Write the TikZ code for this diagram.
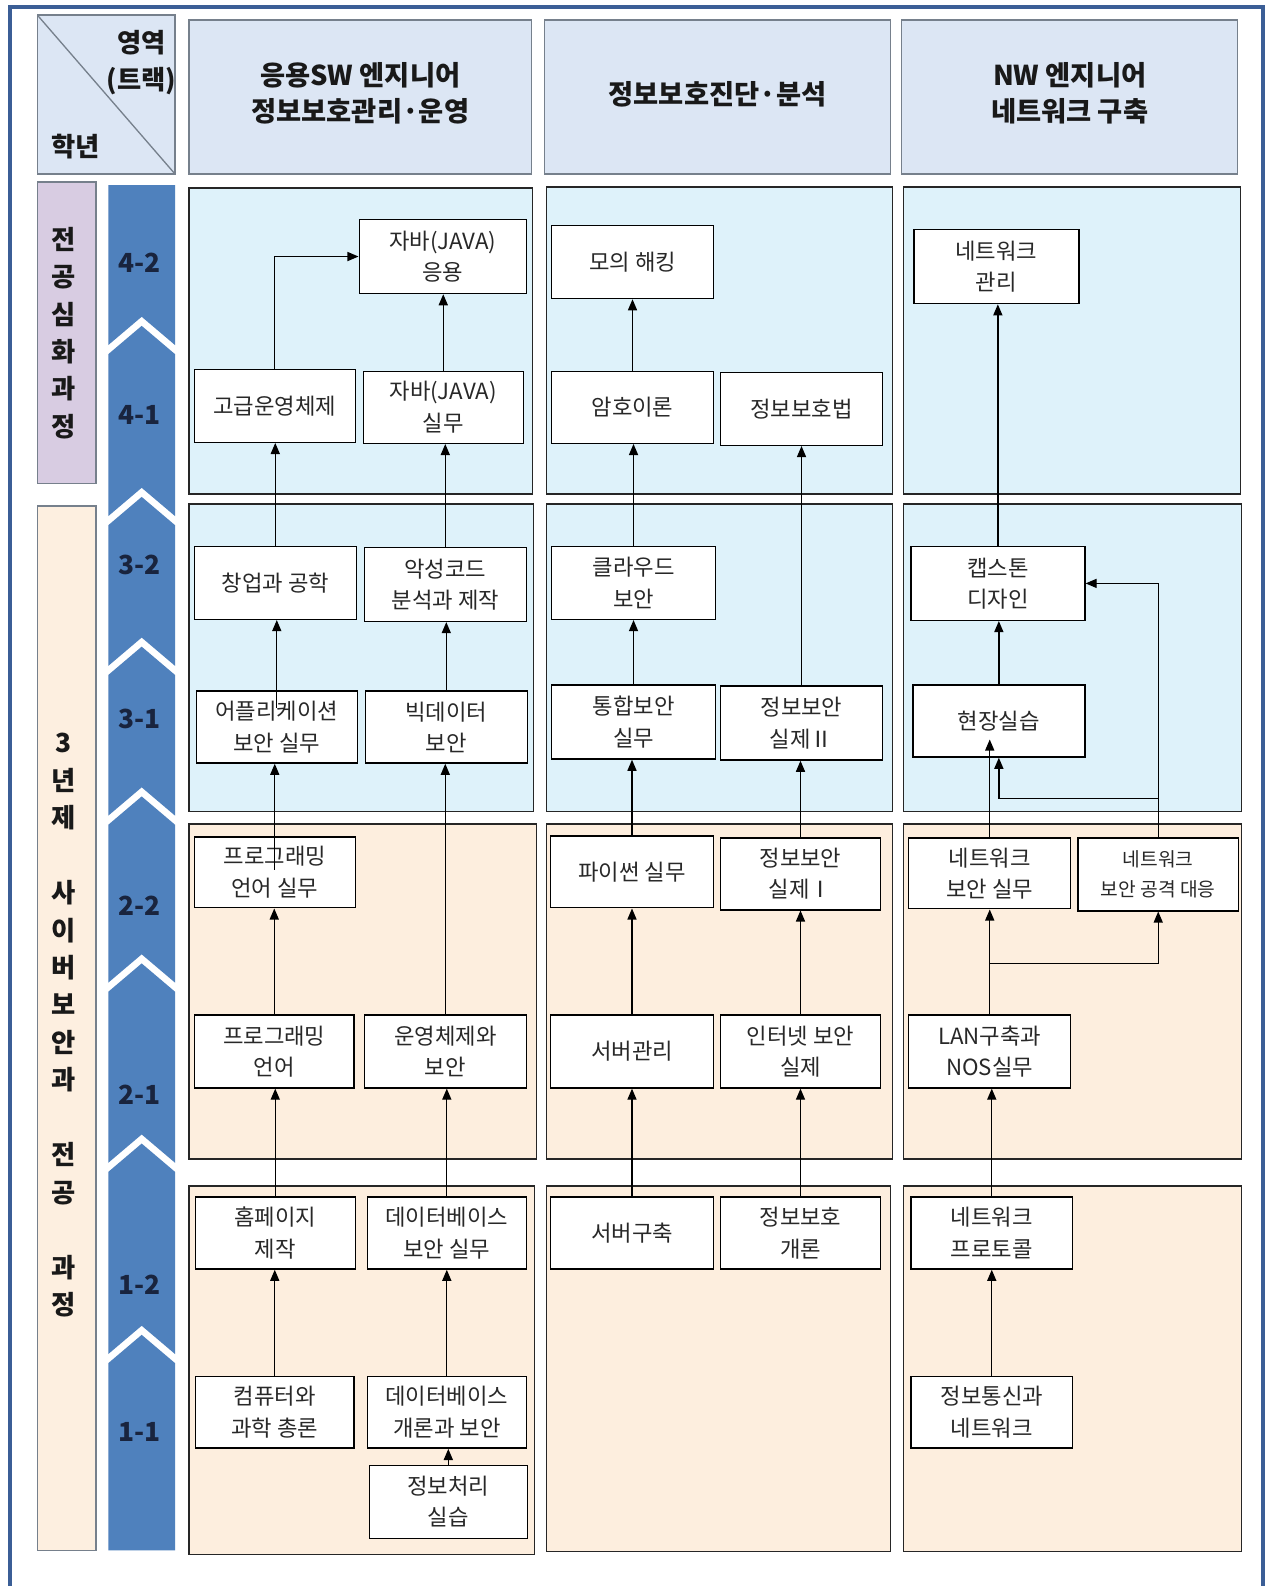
\documentclass[tikz,border=0pt]{standalone}
\usepackage{fontspec}
\setmainfont{Noto Sans CJK KR}
\usetikzlibrary{arrows.meta}
\definecolor{frameblue}{RGB}{59,94,150}
\definecolor{hdrfill}{RGB}{220,230,244}
\definecolor{hdrline}{RGB}{118,128,140}
\definecolor{purp}{RGB}{216,204,226}
\definecolor{peachL}{RGB}{253,239,224}
\definecolor{chev}{RGB}{79,129,189}
\definecolor{navy}{RGB}{25,36,62}
\definecolor{panelblue}{RGB}{222,242,250}
\definecolor{panelpeach}{RGB}{253,238,222}
\definecolor{txt}{RGB}{40,40,40}
\tikzset{
  hdr/.style={draw=hdrline, line width=1.5pt, fill=hdrfill},
  sidebox/.style={draw=hdrline, line width=1.5pt},
  panelB/.style={draw=black!85, line width=1.5pt, fill=panelblue},
  panelP/.style={draw=black!85, line width=1.5pt, fill=panelpeach},
  course/.style={draw=black, line width=1.4pt, fill=white, align=center, inner sep=0pt,
    text=txt, font=\fontsize{22}{31}\selectfont},
  small/.style={font=\fontsize{19}{29}\selectfont},
  hdrtxt/.style={align=center, inner sep=0pt, text=black!90, font=\bfseries\fontsize{27}{36}\selectfont},
  cornertxt/.style={inner sep=0pt, text=black!90, font=\bfseries\fontsize{26}{28}\selectfont},
  sidetxt/.style={align=center, inner sep=0pt, text=black!90, font=\bfseries\fontsize{26}{37}\selectfont},
  yrlbl/.style={inner sep=0pt, text=navy, font=\bfseries\fontsize{26}{26}\selectfont},
  arr/.style={line width=1.3pt, -{Triangle[length=11pt,width=9pt]}},
  lnk/.style={line width=1.3pt}
}
\newcommand\mkbox[7][]{\node[course,#1,minimum width={(#5)-(#3)},minimum height={(#6)-(#4)}] (#2) at ({((#3)+(#5))/2},{((#4)+(#6))/2}) {#7};}
\newcommand\chevseg[2]{\fill[chev] (107,#1+28) -- (140,#1) -- (173,#1+28) -- (173,#2+28) -- (140,#2) -- (107,#2+28) -- cycle;}
\begin{document}
\begin{tikzpicture}[x=1pt,y=-1pt]
\useasboundingbox (0,0) rectangle (1250,1567.2);
\clip (0,0) rectangle (1250,1567.2);
\fill[white] (0,0) rectangle (1250,1567.2);
% outer frame
\draw[frameblue, line width=4pt] (10,1600) -- (10,7) -- (1248,7) -- (1248,1600);

% header row
\draw[hdr] (37,15) rectangle (173,172);
\draw[hdrline, line width=1.3pt] (37,15) -- (173,172);
\node[cornertxt] (c1) at (140,42) {영역};
\node[cornertxt] (c2) at (140,80) {(트랙)};
\node[cornertxt] (c3) at (75,145) {학년};
\draw[hdr] (187,20) rectangle (525,172);
\draw[hdr] (538,20) rectangle (880,172);
\draw[hdr] (891,20) rectangle (1223,172);
\node[hdrtxt] (h1) at (356,92) {응용SW 엔지니어\\정보보호관리·운영};
\node[hdrtxt] (h2) at (709,93) {정보보호진단·분석};
\node[hdrtxt] (h3) at (1057,92) {NW 엔지니어\\네트워크 구축};

% side boxes
\draw[sidebox, fill=purp] (37,180) rectangle (95,478);
\draw[sidebox, fill=peachL] (37,500) rectangle (95,1532);
\node[sidetxt] (s1) at (63,329) {전\\공\\심\\화\\과\\정};
\node[sidetxt] (s2) at (63,1013) {3\\년\\제\\\mbox{}\\사\\이\\버\\보\\안\\과\\\mbox{}\\전\\공\\\mbox{}\\과\\정};

% chevrons
\fill[chev] (107,183) -- (173,183) -- (173,341) -- (140,313) -- (107,341) -- cycle;
\chevseg{322}{482}
\chevseg{491}{630}
\chevseg{639}{778}
\chevseg{787}{943}
\chevseg{952}{1121}
\chevseg{1130}{1310}
\fill[chev] (107,1347) -- (140,1319) -- (173,1347) -- (173,1532) -- (107,1532) -- cycle;
\node[yrlbl] (y42) at (138,260) {4-2};
\node[yrlbl] (y41) at (138,410) {4-1};
\node[yrlbl] (y32) at (138,558) {3-2};
\node[yrlbl] (y31) at (138,710) {3-1};
\node[yrlbl] (y22) at (138,895) {2-2};
\node[yrlbl] (y21) at (138,1082) {2-1};
\node[yrlbl] (y12) at (138,1270) {1-2};
\node[yrlbl] (y11) at (138,1415) {1-1};

% panels
\draw[panelB] (187,186) rectangle (526,488);
\draw[panelB] (540,185) rectangle (882,488);
\draw[panelB] (893,185) rectangle (1226,488);
\draw[panelB] (187,498) rectangle (527,802);
\draw[panelB] (540,498) rectangle (882,802);
\draw[panelB] (893,498) rectangle (1227,802);
\draw[panelP] (187,814) rectangle (530,1145);
\draw[panelP] (540,814) rectangle (882,1145);
\draw[panelP] (893,814) rectangle (1227,1145);
\draw[panelP] (187,1172) rectangle (528,1536);
\draw[panelP] (540,1172) rectangle (880,1533);
\draw[panelP] (893,1172) rectangle (1227,1533);

% column 1 courses
\mkbox{java2}{355}{217}{520}{290}{자바(JAVA)\\응용}
\mkbox{gos}{192}{365}{351}{437}{고급운영체제}
\mkbox{javap}{359}{367}{517}{438}{자바(JAVA)\\실무}
\mkbox{chang}{192}{540}{352}{612}{창업과 공학}
\mkbox{mal}{360}{541}{520}{614}{악성코드\\분석과 제작}
\mkbox{app}{194}{683}{353}{754}{어플리케이션\\보안 실무}
\mkbox{big}{361}{683}{521}{754}{빅데이터\\보안}
\mkbox{prog2}{192}{827}{351}{897}{프로그래밍\\언어 실무}
\mkbox{prog1}{192}{1003}{350}{1075}{프로그래밍\\언어}
\mkbox{os}{360}{1003}{520}{1075}{운영체제와\\보안}
\mkbox{home}{193}{1183}{351}{1254}{홈페이지\\제작}
\mkbox{dbs}{363}{1183}{520}{1254}{데이터베이스\\보안 실무}
\mkbox{comp}{193}{1360}{350}{1431}{컴퓨터와\\과학 총론}
\mkbox{dbi}{363}{1360}{520}{1431}{데이터베이스\\개론과 보안}
\mkbox{info}{365}{1448}{521}{1520}{정보처리\\실습}

% column 2 courses
\mkbox{hack}{545}{223}{705}{295}{모의 해킹}
\mkbox{crypt}{545}{367}{705}{438}{암호이론}
\mkbox{law}{712}{368}{872}{440}{정보보호법}
\mkbox{cloud}{545}{540}{707}{612}{클라우드\\보안}
\mkbox{integ}{545}{677}{707}{750}{통합보안\\실무}
\mkbox{sec2}{712}{678}{872}{751}{정보보안\\실제Ⅱ}
\mkbox{py}{544}{826}{705}{897}{파이썬 실무}
\mkbox{sec1}{712}{828}{870}{899}{정보보안\\실제Ⅰ}
\mkbox{srvm}{544}{1003}{705}{1075}{서버관리}
\mkbox{inet}{712}{1003}{870}{1075}{인터넷 보안\\실제}
\mkbox{srvb}{544}{1183}{705}{1254}{서버구축}
\mkbox{intro}{712}{1183}{870}{1254}{정보보호\\개론}

% column 3 courses
\mkbox{nman}{903}{227}{1066}{300}{네트워크\\관리}
\mkbox{cap}{900}{540}{1072}{613}{캡스톤\\디자인}
\mkbox{hyeon}{902}{677}{1072}{748}{현장실습}
\mkbox{nsp}{898}{828}{1058}{898}{네트워크\\보안 실무}
\mkbox[small]{nsa}{1065}{828}{1224}{900}{네트워크\\보안 공격 대응}
\mkbox{lan}{898}{1003}{1058}{1075}{LAN구축과\\NOS실무}
\mkbox{proto}{900}{1183}{1060}{1254}{네트워크\\프로토콜}
\mkbox{tele}{900}{1360}{1060}{1431}{정보통신과\\네트워크}

% column 1 arrows
\draw[arr] (gos.north) |- (java2.west);
\draw[arr] (javap.north) -- (javap.north |- java2.south);
\draw[arr] (chang.north) -- (chang.north |- gos.south);
\draw[arr] (mal.north) -- (mal.north |- javap.south);
\draw[arr] ([yshift=-17pt]app.north) -- (app.north |- chang.south);
\draw[arr] (big.north) -- (big.north |- mal.south);
\draw[arr] ([yshift=-33pt]prog2.north) -- (prog2.north |- app.south);
\draw[arr] (os.north) -- (os.north |- big.south);
\draw[arr] (prog1.north) -- (prog1.north |- prog2.south);
\draw[arr] (home.north) -- (home.north |- prog1.south);
\draw[arr] (dbs.north) -- (dbs.north |- os.south);
\draw[arr] (comp.north) -- (comp.north |- home.south);
\draw[arr] (dbi.north) -- (dbi.north |- dbs.south);
\draw[arr] (info.north) -- (info.north |- dbi.south);

% column 2 arrows
\draw[arr] (crypt.north) -- (crypt.north |- hack.south);
\draw[arr] (cloud.north) -- (cloud.north |- crypt.south);
\draw[arr] (integ.north) -- (integ.north |- cloud.south);
\draw[arr] (sec2.north) -- (sec2.north |- law.south);
\draw[arr] (py.north) -- (py.north |- integ.south);
\draw[arr] (sec1.north) -- (sec1.north |- sec2.south);
\draw[arr] (srvm.north) -- (srvm.north |- py.south);
\draw[arr] (inet.north) -- (inet.north |- sec1.south);
\draw[arr] (srvb.north) -- (srvb.north |- srvm.south);
\draw[arr] (intro.north) -- (intro.north |- inet.south);

% column 3 arrows
\draw[arr] (cap.north) -- (cap.north |- nman.south);
\draw[arr] (hyeon.north) -- (hyeon.north |- cap.south);
\coordinate (hb) at ([yshift=18pt]hyeon.south);
\draw[arr] (nsp.north) -- (nsp.north |- hb);
\draw[arr] (nsa.north) |- (cap.east);
\coordinate (j1) at (1144.5,789);
\draw[arr] (j1) -| (hyeon.south);
\draw[arr] (lan.north) -- (lan.north |- nsp.south);
\coordinate (j2) at (978,952);
\draw[arr] (j2) -| (nsa.south);
\draw[arr] (proto.north) -- (proto.north |- lan.south);
\draw[arr] (tele.north) -- (tele.north |- proto.south);
\end{tikzpicture}
\end{document}
